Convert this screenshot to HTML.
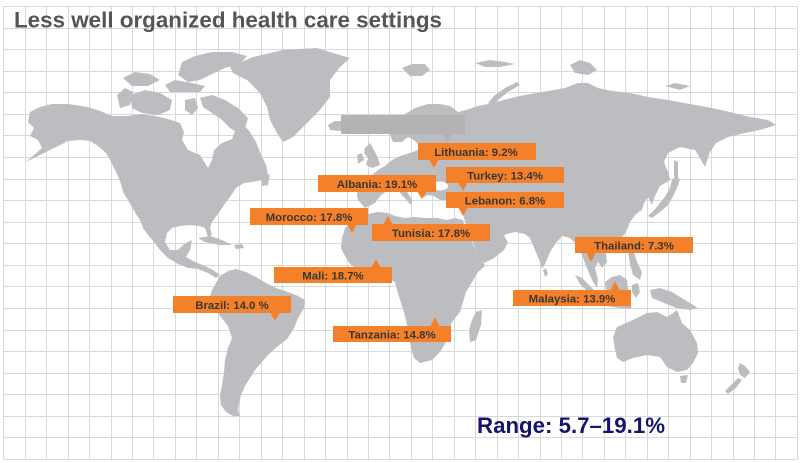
<!DOCTYPE html>
<html><head><meta charset="utf-8"><style>
html,body{margin:0;padding:0;background:#fff;}
svg{display:block;}
.lb{font-family:"Liberation Sans",Arial,sans-serif;font-weight:bold;font-size:11.4px;fill:#3a3632;}
</style></head><body>
<svg width="803" height="463" viewBox="0 0 803 463" xmlns="http://www.w3.org/2000/svg">
<rect width="803" height="463" fill="#fff"/>
<g id="grid" stroke="#d9d9d9" stroke-width="1" shape-rendering="crispEdges"></g>
<g fill="#bcbdc0">
<!-- North America -->
<polygon points="30,112 40,107 52,104 68,104 88,107 100,111 112,116 128,116 142,114 155,116 168,119 180,123 184,132 182,140 188,150 200,155 205,163 208,168 212,160 214,150 222,143 232,139 235,131 243,124 250,132 256,142 260,152 266,165 268,175 262,180 252,182 244,183 236,188 230,197 224,205 218,214 212,222 210,228 212,235 208,237 205,228 200,226 190,225 180,226 172,228 167,233 165,242 170,250 178,250 184,244 192,240 190,250 186,257 195,262 205,266 213,270 220,275 216,278 208,273 198,269 188,268 178,264 168,258 160,250 154,242 148,235 143,228 140,220 136,214 132,207 128,200 123,192 121,184 118,176 114,168 110,160 106,153 98,146 90,141 80,140 68,141 58,146 48,151 40,155 30,160 26,162 35,154 42,148 38,140 30,136 34,128 28,122"/>
<!-- Greenland -->
<polygon points="230,67 253,57 283,50 317,48 333,53 350,58 340,67 330,80 330,97 320,110 307,123 293,137 283,142 277,133 270,120 267,107 260,93 247,80 233,73"/>
<!-- Arctic islands -->
<polygon points="178,75 182,62 195,56 212,52 232,52 247,56 240,64 225,68 212,74 200,80 188,82"/>
<polygon points="165,85 175,80 192,83 205,86 200,92 185,92 170,92"/>
<polygon points="200,98 212,95 225,100 238,108 248,118 245,128 238,133 230,128 222,120 212,113 203,107"/>
<polygon points="130,95 145,90 160,93 172,100 170,110 158,115 142,113 132,108"/>
<polygon points="117,95 125,88 133,92 130,105 120,108"/>
<polygon points="123,78 135,72 150,74 160,80 148,86 132,86"/>
<polygon points="185,100 195,98 198,108 192,115 185,110"/>
<polygon points="262,178 270,174 268,185 262,186"/>
<!-- Caribbean -->
<polygon points="198,238 210,236 222,240 232,245 220,245 205,242"/>
<polygon points="234,245 242,244 244,248 236,249"/>
<!-- South America -->
<polygon points="220,276 228,271 236,269 246,272 256,277 266,283 276,288 288,292 298,296 305,300 304,308 298,318 294,328 287,339 278,346 268,355 262,362 255,370 250,378 245,386 241,395 239,403 238,410 240,416 233,416 226,412 221,405 220,396 222,385 224,372 225,360 228,348 232,338 228,326 220,316 214,305 210,297 212,290 216,283"/>
<!-- Africa -->
<polygon points="345,228 352,222 360,218 368,214 378,212 388,213 395,216 405,218 415,217 425,218 437,218 447,220 455,218 463,220 465,228 470,238 476,250 482,260 485,266 478,272 472,282 466,292 463,302 460,312 452,322 449,332 446,342 440,352 432,360 420,363 414,358 411,348 409,338 407,325 404,312 400,300 397,290 395,282 388,278 378,276 368,274 358,270 350,264 345,256 341,248 342,238"/>
<polygon points="476,312 482,310 481,325 476,340 470,342 469,330 472,320"/>
<!-- Eurasia -->
<polygon points="358,200 365,208 375,203 380,196 388,190 395,187 402,195 411,205 412,200 406,190 410,186 418,192 422,198 428,195 434,196 440,200 450,200 458,202 462,208 464,218 468,230 474,245 480,258 484,263 494,258 504,250 508,242 504,236 506,234 515,232 525,234 530,238 535,250 540,262 542,269 546,262 550,252 556,243 562,236 570,238 576,244 582,255 586,266 592,280 597,288 598,280 595,268 598,262 602,268 607,262 606,254 612,246 620,240 626,232 630,222 636,214 642,210 644,203 648,197 652,205 655,196 660,186 670,180 668,172 664,162 668,153 680,147 695,150 700,158 705,167 710,152 716,143 728,137 745,133 760,130 776,125 768,120 750,117 730,112 712,108 690,104 668,100 648,97 630,93 612,91 598,88 588,83 578,83 565,88 548,91 530,94 515,97 500,101 488,104 478,106 466,110 458,112 450,106 440,104 428,104 415,108 405,114 396,123 390,135 393,142 402,142 408,137 414,140 420,146 418,150 410,153 400,156 392,160 385,166 378,170 372,175 366,177 374,182 365,186 358,188 357,195"/>
<!-- Islands Eurasia -->
<polygon points="328,125 335,121 345,121 348,126 340,131 330,130"/>
<polygon points="365,148 370,143 374,150 378,158 380,165 372,168 366,165 368,158 364,153"/>
<polygon points="357,155 362,153 364,160 358,164"/>
<polygon points="402,68 412,64 425,64 430,70 422,76 410,76"/>
<polygon points="475,63 490,60 505,62 515,64 500,67 485,67"/>
<polygon points="570,65 580,60 590,63 597,70 588,75 575,73"/>
<polygon points="665,86 675,83 690,86 680,90"/>
<polygon points="488,103 495,95 505,88 517,82 520,85 508,92 498,100 492,106"/>
<polygon points="676,175 680,180 676,190 672,198 668,205 660,212 652,218 648,216 656,208 664,198 670,188 672,180"/>
<polygon points="674,160 678,162 678,178 674,176"/>
<polygon points="543,270 546,268 548,274 545,277"/>
<polygon points="630,240 633,238 634,245 630,246"/>
<polygon points="612,250 617,249 616,254"/>
<!-- SE Asia -->
<polygon points="575,275 582,278 592,288 602,298 598,302 590,294 580,284"/>
<polygon points="602,302 615,303 632,306 630,309 612,307 602,305"/>
<polygon points="605,282 612,277 620,275 627,280 628,290 622,298 612,298 606,292"/>
<polygon points="632,285 638,283 640,292 636,298 632,292"/>
<polygon points="628,252 634,252 637,262 642,272 640,280 633,275 630,264"/>
<polygon points="650,290 660,288 672,292 685,300 698,308 690,310 676,308 662,302 652,298"/>
<!-- Australia -->
<polygon points="613,337 617,327 633,320 647,313 657,312 667,317 673,313 677,310 682,323 690,330 697,343 698,353 693,363 687,370 677,372 667,367 660,357 647,355 633,358 623,362 617,358 615,350"/>
<polygon points="680,376 688,375 686,383 681,383"/>
<polygon points="740,363 745,366 750,372 745,378 740,375 738,368"/>
<polygon points="738,378 742,380 736,388 728,394 725,391 732,384"/>
</g>
<ellipse cx="440" cy="186" rx="8" ry="4.5" fill="#fff"/>
<!-- gray box -->
<rect x="341" y="115" width="124" height="19" fill="#b3b3b3"/>
<polygon points="442,133 452,133 447,142" fill="#b3b3b3"/>
<!-- labels -->
<g fill="#f4812a">
<rect x="418" y="143" width="118" height="17"/><polygon points="429,159 439,159 434,168"/>
<rect x="446" y="167" width="118" height="16"/><polygon points="458,182 468,182 463,191"/>
<rect x="446" y="192" width="118" height="16"/><polygon points="458,207 468,207 463,216"/>
<rect x="318" y="175" width="118" height="17"/><polygon points="417,191 427,191 422,199"/>
<rect x="250" y="208" width="118" height="17"/><polygon points="347,224 357,224 352,233"/>
<rect x="372" y="224" width="118" height="17"/><polygon points="383,225 393,225 388,216"/>
<rect x="274" y="267" width="118" height="16"/><polygon points="371,268 381,268 376,259"/>
<rect x="173" y="296" width="118" height="17"/><polygon points="270,312 280,312 275,321"/>
<rect x="333" y="326" width="118" height="16"/><polygon points="430,327 440,327 435,317"/>
<rect x="575" y="237" width="118" height="16"/><polygon points="586,252 596,252 591,262"/>
<rect x="513" y="290" width="118" height="16"/><polygon points="610,291 620,291 615,281"/>
</g>
<g class="lb" text-anchor="middle">
<text x="476" y="156">Lithuania: 9.2%</text>
<text x="505" y="179.5">Turkey: 13.4%</text>
<text x="505" y="204.5">Lebanon: 6.8%</text>
<text x="377" y="188">Albania: 19.1%</text>
<text x="309" y="221">Morocco: 17.8%</text>
<text x="431" y="237">Tunisia: 17.8%</text>
<text x="333" y="279.5">Mali: 18.7%</text>
<text x="232" y="309">Brazil: 14.0 %</text>
<text x="392" y="338.5">Tanzania: 14.8%</text>
<text x="634" y="249.5">Thailand: 7.3%</text>
<text x="572" y="302.5">Malaysia: 13.9%</text>
</g>
<text x="14" y="27.5" font-family="Liberation Sans, Arial, sans-serif" font-weight="bold" font-size="22" fill="#555555" textLength="428" lengthAdjust="spacingAndGlyphs">Less well organized health care settings</text>
<text x="477" y="433" font-family="Liberation Sans, Arial, sans-serif" font-weight="bold" font-size="22" fill="#14146b" textLength="188" lengthAdjust="spacingAndGlyphs">Range: 5.7–19.1%</text>
</svg>
<script>
(function(){
var g=document.getElementById('grid');var ns='http://www.w3.org/2000/svg';
for(var i=0;i<=37;i++){var x=Math.round(3.3+21.45*i)+0.5;var l=document.createElementNS(ns,'line');l.setAttribute('x1',x);l.setAttribute('x2',x);l.setAttribute('y1',6);l.setAttribute('y2',459.5);g.appendChild(l);}
for(var j=0;j<=21;j++){var y=Math.round(6+21.57*j)+0.5;var m=document.createElementNS(ns,'line');m.setAttribute('y1',y);m.setAttribute('y2',y);m.setAttribute('x1',3);m.setAttribute('x2',797.5);g.appendChild(m);}
})();
</script>
</body></html>
